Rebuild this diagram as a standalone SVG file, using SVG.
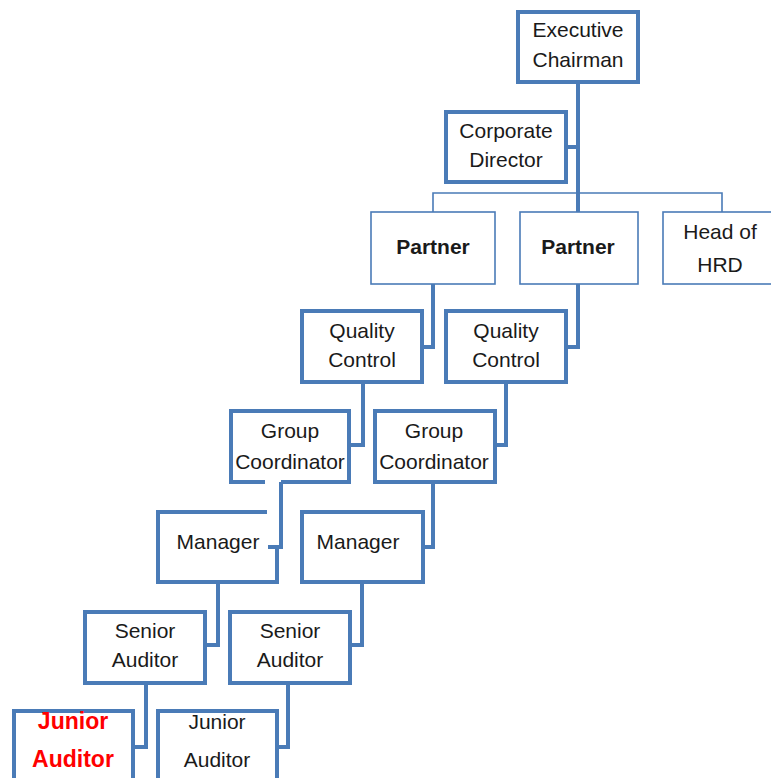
<svg xmlns="http://www.w3.org/2000/svg" width="771" height="778" viewBox="0 0 771 778">
<style>
.thick{fill:#fff;stroke:#4a7bb7;stroke-width:4}
.thin{fill:#fff;stroke:#4a7bb7;stroke-width:1.6}
.c{fill:none;stroke:#4a7bb7;stroke-width:4}
.ct{fill:none;stroke:#4a7bb7;stroke-width:1.6}
text{font-family:"Liberation Sans",Arial,sans-serif;font-size:21px;fill:#1a1a1a;text-anchor:middle}
.b{font-weight:bold}
.red{fill:#ff0000;font-weight:bold;font-size:23px}
</style>
<rect width="771" height="778" fill="#fff"/>
<g id="connectors">
<path class="c" d="M578 83V212M566 147H578"/>
<path class="ct" d="M433 212V193H722V212"/>
<path class="c" d="M433 284V347H422"/>
<path class="c" d="M578 284V347H566"/>
<path class="c" d="M363 382V445H349"/>
<path class="c" d="M506 382V445H495"/>
<path class="c" d="M281 482V547H268"/>
<path class="c" d="M433 483V547H423"/>
<path class="c" d="M218 582V645H205"/>
<path class="c" d="M362 582V645H350"/>
<path class="c" d="M146 683V747H133"/>
<path class="c" d="M288 683V747H277"/>
</g>
<g id="exec"><rect class="thick" x="518" y="12" width="120" height="70"/><text x="578" y="37">Executive</text><text x="578" y="67">Chairman</text></g>
<g id="corp"><rect class="thick" x="446" y="112" width="120" height="70"/><text x="506" y="138">Corporate</text><text x="506" y="167">Director</text></g>
<g id="partner1"><rect class="thin" x="371" y="212" width="124" height="72"/><text class="b" x="433" y="254">Partner</text></g>
<g id="partner2"><rect class="thin" x="520" y="212" width="118" height="72"/><text class="b" x="578" y="254">Partner</text></g>
<g id="hrd"><rect class="thin" x="663" y="212" width="120" height="72"/><text x="720" y="239">Head of</text><text x="720" y="272">HRD</text></g>
<g id="qc1"><rect class="thick" x="302" y="311" width="120" height="71"/><text x="362" y="338">Quality</text><text x="362" y="367">Control</text></g>
<g id="qc2"><rect class="thick" x="446" y="311" width="120" height="71"/><text x="506" y="338">Quality</text><text x="506" y="367">Control</text></g>
<g id="gc1"><path class="c" d="M265 482H231V411H349V482H281"/><text x="290" y="438">Group</text><text x="290" y="469">Coordinator</text></g>
<g id="gc2"><rect class="thick" x="375" y="411" width="120" height="71"/><text x="434" y="438">Group</text><text x="434" y="469">Coordinator</text></g>
<g id="mgr1"><path class="c" d="M267 512H158V582H277V547"/><text x="218" y="549">Manager</text></g>
<g id="mgr2"><rect class="thick" x="302" y="512" width="121" height="70"/><text x="358" y="549">Manager</text></g>
<g id="sa1"><rect class="thick" x="85" y="612" width="120" height="71"/><text x="145" y="638">Senior</text><text x="145" y="667">Auditor</text></g>
<g id="sa2"><rect class="thick" x="230" y="612" width="120" height="71"/><text x="290" y="638">Senior</text><text x="290" y="667">Auditor</text></g>
<g id="ja1"><path class="c" d="M14 790V711H133V790"/><text class="red" x="73" y="729">Junior</text><text class="red" x="73" y="767">Auditor</text></g>
<g id="ja2"><path class="c" d="M158 790V711H277V790"/><text x="217" y="729">Junior</text><text x="217" y="767">Auditor</text></g>
</svg>
